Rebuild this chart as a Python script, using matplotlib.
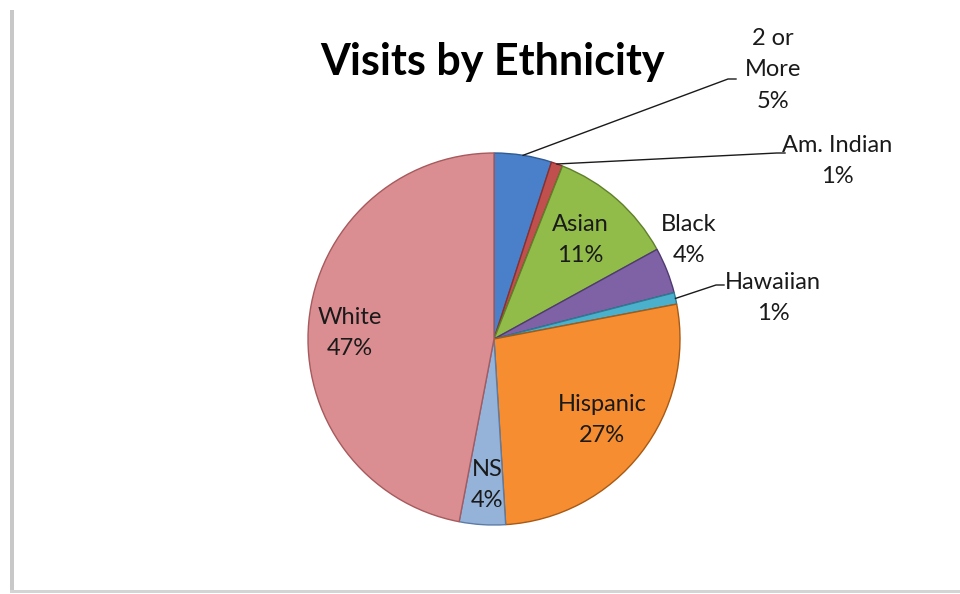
import numpy as np
import matplotlib
matplotlib.use("Agg")
import matplotlib.pyplot as plt
from matplotlib.patches import Rectangle

plt.rcParams['font.family'] = ['Lato', 'DejaVu Sans']

groups = ['2 or\nMore', 'Am. Indian', 'Asian', 'Black', 'Hawaiian', 'Hispanic', 'NS', 'White']
shares = [5, 1, 11, 4, 1, 27, 4, 47]
colors = ['#4a7fc9', '#c0504d', '#92bc4a', '#7f62a6', '#4bb0cc', '#f68d30', '#95b3d9', '#db8e91']
edges = ['#2f5b94', '#8c2f2c', '#5f7f2a', '#4f3a70', '#2a7d93', '#a85a14', '#5c7ca6', '#a65a5d']

# label centres in pixels (x, y from top) and leader line end points
label_pos = [(773, 70), (837, 161), (580, 240), (689, 240), (773, 298), (602, 420), (487, 485), (350, 333)]
leader_end = [(728, 79), (777, 153), None, None, (716, 285), None, None, None]

W, H = 960, 594
fig = plt.figure(figsize=(9.6, 5.94), dpi=100)
ax = fig.add_axes([0, 0, 1, 1])

# chart frame shadow (left and bottom)
ax.add_patch(Rectangle((10, 2), 4, H - 12, color='#c8c8c8', lw=0))
ax.add_patch(Rectangle((10, 1), W - 10, 3, color='#d4d4d4', lw=0))

cx, cy, r = 494, H - 339, 186
wedges, _ = ax.pie(shares, colors=colors, startangle=90, counterclock=False,
                   center=(cx, cy), radius=r, frame=True,
                   wedgeprops=dict(linewidth=1.0))
for w, ec in zip(wedges, edges):
    w.set_edgecolor(ec)
ax.set_xlim(0, W)
ax.set_ylim(0, H)
ax.set_aspect('equal')
ax.axis('off')

for i, (w, g, s) in enumerate(zip(wedges, groups, shares)):
    lx, ly = label_pos[i]
    ax.text(lx, H - ly, f'{g}\n{s}%', ha='center', va='center', fontsize=17,
            color='#1a1a1a', linespacing=1.6)
    if leader_end[i] is not None:
        mid = np.deg2rad((w.theta1 + w.theta2) / 2)
        px, py = cx + r * np.cos(mid), cy + r * np.sin(mid)
        ex, ey = leader_end[i]
        ax.plot([px, ex, ex + 8], [py, H - ey, H - ey], color='#1a1a1a', lw=1)

ax.text(492, H - 62, 'Visits by Ethnicity', ha='center', va='center',
        fontsize=31, fontweight='bold', color='black')

fig.savefig('out.png', dpi=100)
